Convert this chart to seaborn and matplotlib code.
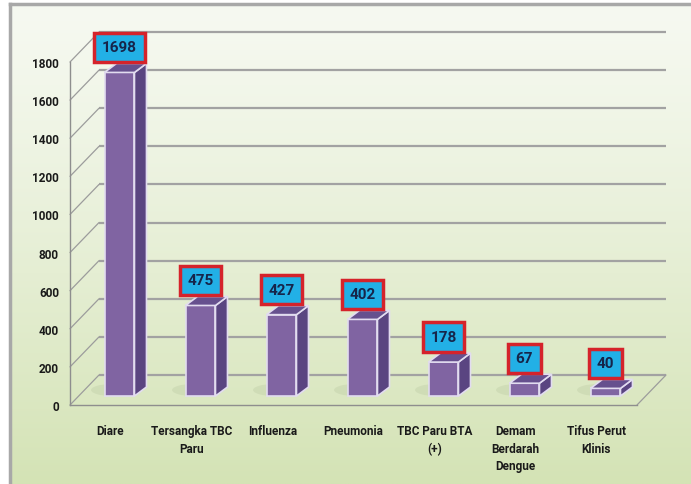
import numpy as np
import matplotlib
matplotlib.use("Agg")
import matplotlib.pyplot as plt
import matplotlib.transforms as mtransforms
from matplotlib.patches import Polygon, Ellipse
from matplotlib.colors import to_rgb
import seaborn as sns

# data
categories = ["Diare", "Tersangka TBC\nParu", "Influenza", "Pneumonia",
              "TBC Paru BTA\n(+)", "Demam\nBerdarah\nDengue", "Tifus Perut\nKlinis"]
cases = [1698, 475, 427, 402, 178, 67, 40]
y_ticks = [0, 200, 400, 600, 800, 1000, 1200, 1400, 1600, 1800]

sns.set_style("white")
plt.rcParams["font.family"] = ["Roboto", "DejaVu Sans"]

W, H, DPI = 691, 485, 100
fig = plt.figure(figsize=(W / DPI, H / DPI), dpi=DPI)
fig.patch.set_facecolor("white")

# gradient background with grey frame
bg = fig.add_axes([10 / W, 0, (W - 10) / W, 480 / H])
top_c, bot_c = np.array(to_rgb("#f6f9f1")), np.array(to_rgb("#d4e3b5"))
t = np.linspace(0, 1, 256)[:, None] ** 1.2
grad = top_c * (1 - t[..., None]) + bot_c * t[..., None]
bg.imshow(np.repeat(grad, 4, axis=1), aspect="auto", extent=[0, 1, 0, 1])
bg.set_xticks([])
bg.set_yticks([])
for s in ["right", "bottom"]:
    bg.spines[s].set_visible(False)
for s in ["left", "top"]:
    bg.spines[s].set_color("#a8a8a8")
    bg.spines[s].set_linewidth(2.5)

# front plane of the 3D box
ax = fig.add_axes([70 / W, 79 / H, 567 / W, 343 / H])
ax.patch.set_alpha(0)

front_c, side_c, topf_c, edge_c = "#8064a2", "#5a4581", "#66508e", "#e2dcf0"
sns.barplot(x=categories, y=cases, ax=ax, color=front_c, saturation=1,
            width=0.37, edgecolor=edge_c, linewidth=1.2, zorder=3)
ax.set_xlim(-0.5, len(categories) - 0.5)
ax.set_ylim(0, 1800)

ux = 567 / len(categories)   # px per category
uy = 343 / 1800              # px per case


def shift(dx, dy):
    return ax.transData + mtransforms.ScaledTranslation(dx / DPI, dy / DPI, fig.dpi_scale_trans)


bar_tr = shift(9, 9)
wall_tr = shift(29, 30)
dxd, dyd = 12 / ux, 9 / uy

for p in ax.patches:
    p.set_transform(bar_tr)
    p.set_clip_on(False)
    x0, w, h = p.get_x(), p.get_width(), p.get_height()
    x1 = x0 + w
    # soft shadow at the base
    ax.add_patch(Ellipse((x0 + w * 0.25, 6 / uy), w * 1.4, 12 / uy, transform=bar_tr,
                         fc="#6f7f55", ec="none", alpha=0.1, zorder=2, clip_on=False))
    ax.add_patch(Polygon([(x1, 0), (x1, h), (x1 + dxd, h + dyd), (x1 + dxd, dyd)],
                         transform=bar_tr, fc=side_c, ec=edge_c, lw=1.2, zorder=3, clip_on=False))
    ax.add_patch(Polygon([(x0, h), (x1, h), (x1 + dxd, h + dyd), (x0 + dxd, h + dyd)],
                         transform=bar_tr, fc=topf_c, ec=edge_c, lw=1.2, zorder=3, clip_on=False))

# back wall gridlines and side diagonals
x_lo, x_hi = -0.5, len(categories) - 0.5
for v in y_ticks:
    ax.plot([x_lo, x_hi], [v, v], transform=wall_tr, color="#a2a2a2", lw=1.6,
            zorder=1, clip_on=False, solid_capstyle="butt")
    ax.plot([x_lo, x_lo + 29 / ux], [v, v + 30 / uy], color="#9c9c9c", lw=0.9,
            zorder=1, clip_on=False)
ax.plot([x_hi, x_hi + 29 / ux], [0, 30 / uy], color="#9c9c9c", lw=0.9,
        zorder=1, clip_on=False)

# value boxes
for i, v in enumerate(cases):
    ax.annotate(f"{v}", xy=(i, v), xycoords=bar_tr, xytext=(0, 25),
                textcoords="offset pixels", ha="center", va="center",
                fontsize=11, fontweight="bold", color="#16254a", zorder=5,
                bbox=dict(boxstyle="square,pad=0.5", fc="#22b0e6", ec="#d5232b", lw=2.5))

# axes styling
for s in ["top", "right"]:
    ax.spines[s].set_visible(False)
for s in ["left", "bottom"]:
    ax.spines[s].set_color("#8e8e8e")
    ax.spines[s].set_linewidth(1.0)
ax.set_yticks(y_ticks)
ax.set_xticks(range(len(categories)))
ax.set_xticklabels(categories, linespacing=1.45)
ax.set_xticks(np.arange(len(categories) + 1) - 0.5, minor=True)
ax.tick_params(axis="x", which="major", length=0, pad=14, labelsize=8.5, labelcolor="#1a1a1a")
ax.tick_params(axis="x", which="minor", length=4, color="#8e8e8e", direction="out")
ax.tick_params(axis="y", length=3, color="#8e8e8e", pad=5, labelsize=8.5, labelcolor="#1a1a1a")
for lbl in ax.get_xticklabels() + ax.get_yticklabels():
    lbl.set_fontweight("bold")
ax.set_xlabel("")
ax.set_ylabel("")

fig.savefig("out.png", dpi=DPI)
